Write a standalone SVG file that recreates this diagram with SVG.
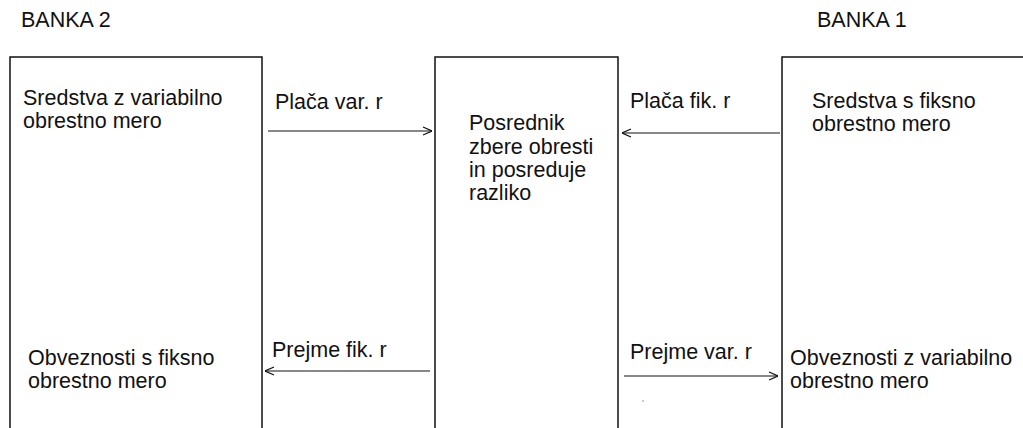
<svg xmlns="http://www.w3.org/2000/svg" width="1023" height="428" viewBox="0 0 1023 428">
<style>
text{font-family:"Liberation Sans",Arial,sans-serif;font-size:21.5px;fill:#111}
.box{fill:none;stroke:#111;stroke-width:1.5}
.con{stroke:#111;stroke-width:1.2;fill:none}
</style>
<defs>
<marker id="ah" viewBox="0 0 10 10" refX="10" refY="5" markerWidth="10" markerHeight="10" markerUnits="userSpaceOnUse" orient="auto">
<path d="M1,1 L10,5 L1,9" fill="none" stroke="#111" stroke-width="1.2"/>
</marker>
</defs>
<rect width="1023" height="428" fill="#fff"/>
<g id="banka2">
<text x="21" y="27">BANKA 2</text>
<rect class="box" x="10" y="57" width="252" height="380"/>
<text x="23" y="105">Sredstva z variabilno</text>
<text x="23" y="128">obrestno mero</text>
<text x="28" y="365">Obveznosti s fiksno</text>
<text x="28" y="388">obrestno mero</text>
</g>
<g id="posrednik">
<rect class="box" x="435" y="57" width="183" height="380"/>
<text x="469" y="130">Posrednik</text>
<text x="469" y="154">zbere obresti</text>
<text x="469" y="177">in posreduje</text>
<text x="469" y="200">razliko</text>
</g>
<g id="banka1">
<text x="817" y="27">BANKA 1</text>
<rect class="box" x="782" y="57" width="260" height="380"/>
<text x="812" y="108">Sredstva s fiksno</text>
<text x="812" y="131">obrestno mero</text>
<text x="790" y="365">Obveznosti z variabilno</text>
<text x="790" y="388">obrestno mero</text>
</g>
<g id="connectors">
<line class="con" x1="268" y1="131" x2="432" y2="131" marker-end="url(#ah)"/>
<text x="275" y="109">Plača var. r</text>
<line class="con" x1="780" y1="133" x2="622" y2="133" marker-end="url(#ah)"/>
<text x="630" y="108">Plača fik. r</text>
<line class="con" x1="430" y1="371" x2="265" y2="371" marker-end="url(#ah)"/>
<text x="272" y="357">Prejme fik. r</text>
<line class="con" x1="624" y1="376" x2="778" y2="376" marker-end="url(#ah)"/>
<text x="630" y="359">Prejme var. r</text>
<circle cx="643" cy="401" r="0.8" fill="#888"/>
</g>
</svg>
